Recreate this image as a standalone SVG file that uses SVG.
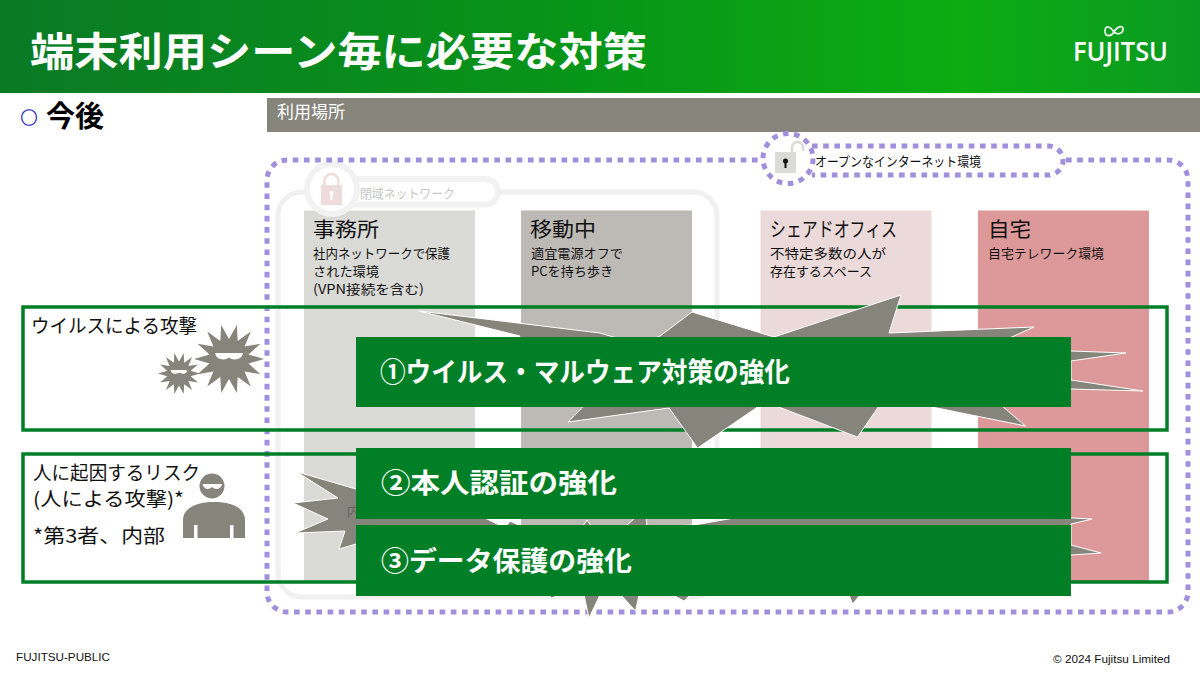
<svg xmlns="http://www.w3.org/2000/svg" width="1200" height="675" viewBox="0 0 1200 675">
<style>
text{font-family:"Noto Sans CJK JP","Noto Sans",sans-serif;fill:#111}
.t{font-size:20px}.s{font-size:13px}.l{font-size:19px}
.b{font-size:27px;font-weight:700;fill:#fff}
.bar{fill:#007f27}
.frame{fill:none;stroke:#007f27;stroke-width:3.5}
.dot{fill:none;stroke:#9f90dd;stroke-width:5;stroke-dasharray:5.6 5.6}
.burst{fill:#86857c;stroke:#fff;stroke-width:1;stroke-linejoin:miter}
.ic{fill:#86857c}
.foot{font-family:"Liberation Sans",Arial,sans-serif;font-size:10.5px}
</style>
<defs>
<linearGradient id="hd" x1="0" y1="0" x2="1" y2="0">
<stop offset="0" stop-color="#0a7a25"/><stop offset="0.5" stop-color="#079618"/><stop offset="0.8" stop-color="#0dac12"/><stop offset="1" stop-color="#0a9a22"/>
</linearGradient>
<g id="virus">
<polygon class="ic" points="35,0 19.500,4.500 31.500,15.200 15.600,12.500 21.800,27.400 8.700,18 7.800,34.100 0,20 -7.800,34.100 -8.700,18 -21.800,27.400 -15.600,12.500 -31.500,15.200 -19.500,4.500 -35,0 -19.500,-4.500 -31.500,-15.200 -15.600,-12.500 -21.800,-27.400 -8.700,-18 -7.800,-34.100 0,-20 7.800,-34.100 8.700,-18 21.800,-27.400 15.600,-12.500 31.500,-15.200 19.500,-4.500"/>
<path d="M-14 -6 H14 C13 1 4 2 0 -1.500 C-4 2 -13 1 -14 -6Z" fill="#fff"/>
</g>
</defs>
<rect width="1200" height="675" fill="#fff"/>
<g id="header">
<rect width="1200" height="93" fill="url(#hd)"/>
<text x="30" y="66" font-size="40" font-weight="700" style="fill:#fff" textLength="617" lengthAdjust="spacingAndGlyphs">端末利用シーン毎に必要な対策</text>
</g>
<g id="logo">
<path d="M1114 32 C1110 26 1105 25 1105 31 C1105 37 1111 37 1114 32 C1117 26 1123 25 1123 29 C1123 34 1117 35 1114 32Z" fill="none" stroke="#fff" stroke-width="1.600"/>
<text x="1073" y="61" font-size="27" font-weight="600" style="font-family:'Open Sans',sans-serif;fill:#fff" textLength="95" lengthAdjust="spacingAndGlyphs">FUJITSU</text>
</g>
<g id="future">
<text x="20.500" y="124" font-size="17" stroke="#2010c0" stroke-width="0.400" style="fill:#2010c0">○</text>
<text x="46" y="127" font-size="29" font-weight="700" style="fill:#000">今後</text>
</g>
<g id="place-header">
<rect x="267" y="98" width="933" height="34" fill="#86857c"/>
<text x="277" y="118" font-size="16.500" style="fill:#fff" textLength="68" lengthAdjust="spacingAndGlyphs">利用場所</text>
</g>
<g id="closed-network">
<rect x="278" y="192" width="439" height="405" rx="24" fill="none" stroke="#f0f0f0" stroke-width="5"/>
</g>
<g id="office">
<rect x="304" y="210.500" width="171" height="371" fill="#dadad7"/>
<text class="t" x="313" y="237" textLength="66" lengthAdjust="spacingAndGlyphs">事務所</text>
<text class="s" x="313" y="258" textLength="137" lengthAdjust="spacingAndGlyphs">社内ネットワークで保護</text>
<text class="s" x="313" y="276" textLength="66" lengthAdjust="spacingAndGlyphs">された環境</text>
<text class="s" x="313" y="294" textLength="111" lengthAdjust="spacingAndGlyphs">(VPN接続を含む)</text>
</g>
<g id="moving">
<rect x="521" y="210.500" width="171" height="371" fill="#bdbab5"/>
<text class="t" x="530" y="237" textLength="66" lengthAdjust="spacingAndGlyphs">移動中</text>
<text class="s" x="531" y="258" textLength="92" lengthAdjust="spacingAndGlyphs">適宜電源オフで</text>
<text class="s" x="531" y="276" textLength="82" lengthAdjust="spacingAndGlyphs">PCを持ち歩き</text>
</g>
<g id="shared-office">
<rect x="760.500" y="210.500" width="171" height="371" fill="#ecd9d9"/>
<text class="t" x="770" y="237" textLength="127" lengthAdjust="spacingAndGlyphs">シェアドオフィス</text>
<text class="s" x="770" y="258" textLength="116" lengthAdjust="spacingAndGlyphs">不特定多数の人が</text>
<text class="s" x="770" y="276" textLength="102" lengthAdjust="spacingAndGlyphs">存在するスペース</text>
</g>
<g id="home">
<rect x="978" y="210.500" width="171" height="371" fill="#dd9999"/>
<text class="t" x="988" y="237" textLength="43" lengthAdjust="spacingAndGlyphs">自宅</text>
<text class="s" x="988" y="258" textLength="116" lengthAdjust="spacingAndGlyphs">自宅テレワーク環境</text>
</g>
<g id="closed-label">
<rect x="338" y="179" width="160" height="25.500" rx="12.700" fill="#fff" stroke="#f2f2f2" stroke-width="6"/>
<circle cx="332" cy="189" r="25" fill="#fff" stroke="#f2f2f2" stroke-width="6"/>
<rect x="321" y="185" width="21" height="20" fill="#eedcdc"/>
<path d="M324.500 186 V181 A7 7 0 0 1 338.500 181 V186" fill="none" stroke="#eedcdc" stroke-width="2.500"/>
<circle cx="331.500" cy="193" r="2" fill="#fff"/><rect x="330.500" y="193" width="2" height="7" fill="#fff"/>
<text x="360" y="198" font-size="13" style="fill:#c8c8c8" textLength="95" lengthAdjust="spacingAndGlyphs">閉域ネットワーク</text>
</g>
<g id="open-network">
<path class="dot" d="M1066 160 H1168 A20 20 0 0 1 1188 180 V592 A20 20 0 0 1 1168 612 H287 A20 20 0 0 1 267 592 V180 A20 20 0 0 1 287 160 H762"/>
<path class="dot" d="M812 146 H1048.500 A14.500 14.500 0 0 1 1048.500 175 H812"/>
<circle class="dot" cx="788" cy="158.500" r="25" style="fill:#fff"/>
<rect x="775" y="152" width="21" height="21" fill="#dbdbd8"/>
<path d="M792 152 V147.500 A5.500 5.500 0 0 1 803 147.500 V151" fill="none" stroke="#dbdbd8" stroke-width="2.500"/>
<circle cx="785.500" cy="161" r="2.500" fill="#111"/><rect x="784.500" y="161" width="2" height="7" fill="#111"/>
<text x="815" y="166" font-size="13" style="fill:#111" textLength="166" lengthAdjust="spacingAndGlyphs">オープンなインターネット環境</text>
</g>
<g id="virus-row">
<rect class="frame" x="23" y="307" width="1144" height="123"/>
<text class="l" x="31" y="333" textLength="166" lengthAdjust="spacingAndGlyphs">ウイルスによる攻撃</text>
<use href="#virus" transform="translate(229 359)"/>
<use href="#virus" transform="translate(179 373.500) scale(.6)"/>
</g>
<g id="person-row">
<rect class="frame" x="23" y="454" width="1144" height="128"/>
<text class="l" x="33" y="480" textLength="167" lengthAdjust="spacingAndGlyphs">人に起因するリスク</text>
<text class="l" x="33" y="506" textLength="151" lengthAdjust="spacingAndGlyphs">(人による攻撃)*</text>
<text class="l" x="33" y="543" textLength="132" lengthAdjust="spacingAndGlyphs">*第3者、内部</text>
<circle class="ic" cx="212" cy="486" r="12.500"/>
<path d="M202.500 484 H222 C221 490 215 490 212 487 C209 490 204 490 202.500 484Z" fill="#fff"/>
<path class="ic" d="M183 538 V520 C183 508 197 502 214 502 C232 502 245 508 245 520 V538Z"/>
<rect x="194" y="525" width="3.500" height="13" fill="#fff"/><rect x="230" y="525" width="3.500" height="13" fill="#fff"/>
</g>
<g id="burst-virus">
<polygon class="burst" points="419,311 600,333 640,345 660,336 692,312 774,337 901,295 889,333 1034,327 1005,340 1071,351 1126,353 1071,361 1071,380 1143,391 1071,389 1002,406 1025.500,426 927,406 879,406 857.500,437 776,406 759,406 697.600,448 669,408 568,422 590,400 500,380 520,336"/>
</g>
<g id="burst-person">
<polygon class="burst" points="297,472 356,489 440,505 487,519 505,528 510,521 525,528 583,526 587,520 591,526 626,526 636,517 646,517 647,527 694,525 740,517 1000,514 1092,519 1071,524 1071,545 1101,553 1071,555 860,595 852.600,604 849,595 690,595 684,601 673,595 639,595 635.600,611 621,595 600,595 589,618 584,595 561,595 551,598 540,580 356,544 339,549 345,531 295,533 328,519 293,503 338,498"/>
<text x="347" y="516" font-size="13" style="fill:#666">内</text>
</g>
<g id="measure-1">
<rect class="bar" x="356" y="337" width="715" height="70"/>
<text class="b" x="380" y="382" textLength="410" lengthAdjust="spacingAndGlyphs">①ウイルス・マルウェア対策の強化</text>
</g>
<g id="measure-2">
<rect class="bar" x="356" y="448" width="715" height="71"/>
<text class="b" x="381" y="493" textLength="236" lengthAdjust="spacingAndGlyphs">②本人認証の強化</text>
</g>
<g id="measure-3">
<rect class="bar" x="356" y="525" width="715" height="71"/>
<text class="b" x="381" y="571" textLength="251" lengthAdjust="spacingAndGlyphs">③データ保護の強化</text>
</g>
<g id="footer">
<text class="foot" x="16" y="661" textLength="94" lengthAdjust="spacingAndGlyphs">FUJITSU-PUBLIC</text>
<text class="foot" x="1053" y="663" textLength="117" lengthAdjust="spacingAndGlyphs">© 2024 Fujitsu Limited</text>
</g>
</svg>
